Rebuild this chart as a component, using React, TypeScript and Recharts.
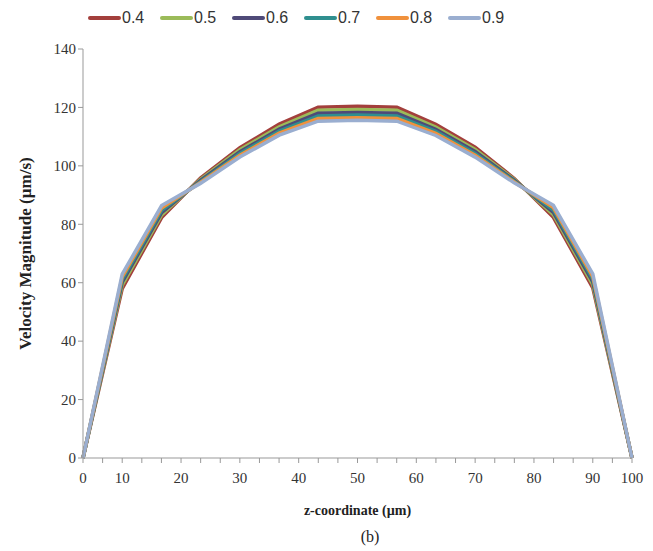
import { LineChart, Line, XAxis, YAxis } from "recharts";

// z positions along the channel (µm) where the velocity was sampled
const zValues = [0, 10, 16.7, 23.3, 30, 36.7, 43.3, 50, 56.7, 63.3, 70, 76.7, 83.3, 90, 100];

// velocity magnitude (µm/s) per series
const v04 = [0, 58.0, 82.3, 95.8, 106.2, 114.3, 120.1, 120.4, 120.1, 114.2, 106.4, 95.6, 82.4, 58.2, 0];
const v05 = [0, 59.2, 83.2, 95.4, 105.5, 113.4, 119.0, 119.3, 119.0, 113.3, 105.6, 95.3, 83.3, 59.3, 0];
const v06 = [0, 60.2, 84.0, 95.0, 104.8, 112.6, 118.0, 118.3, 118.0, 112.5, 104.9, 95.0, 84.1, 60.3, 0];
const v07 = [0, 61.1, 84.8, 94.6, 104.2, 111.9, 117.1, 117.4, 117.1, 111.8, 104.2, 94.7, 84.9, 61.2, 0];
const v08 = [0, 62.0, 85.6, 94.3, 103.6, 111.2, 116.2, 116.5, 116.2, 111.1, 103.6, 94.4, 85.7, 62.1, 0];
const v09 = [0, 62.9, 86.4, 94.0, 103.0, 110.5, 115.3, 115.6, 115.3, 110.4, 103.0, 94.1, 86.5, 63.0, 0];

const seriesNames = ["0.4", "0.5", "0.6", "0.7", "0.8", "0.9"];
const seriesValues = [v04, v05, v06, v07, v08, v09];
const colors = ["#a33f3c", "#9bbb59", "#4f4a78", "#2f8f8f", "#f0913c", "#9aaed0"];

const xTickLabels = ["0", "10", "20", "30", "40", "50", "60", "70", "80", "90", "100"];
const yTicks = [0, 20, 40, 60, 80, 100, 120, 140];

// the original axis is a category axis: 0-10 and 90-100 span two slots,
// everything in between is 10/3 µm per slot
const zToSlot = (z: number) => {
  if (z <= 10) return z / 5;
  if (z >= 90) return 26 + (z - 90) / 5;
  return 2 + (z - 10) / (10 / 3);
};

const slotTicks = Array.from({ length: 29 }, (_, i) => i);
const slotLabel: Record<number, string> = {};
xTickLabels.forEach((l) => {
  slotLabel[Math.round(zToSlot(Number(l)))] = l;
});

const chartData = zValues.map((z, i) => {
  const row: Record<string, number> = { z, slot: zToSlot(z) };
  seriesNames.forEach((name, s) => {
    row[name] = seriesValues[s][i];
  });
  return row;
});

const serif = "'Liberation Serif', 'Times New Roman', serif";
const tickStyle = { fontFamily: serif, fontSize: 15, fill: "#333" };

const App = () => {
  return (
    <div style={{ position: "relative", width: 645, height: 543 }}>
      <div
        style={{
          position: "absolute",
          top: 0,
          left: 80,
          display: "flex",
          fontFamily: "'Liberation Sans Narrow', 'Arial Narrow', Arial, sans-serif",
          fontSize: 16,
          color: "#333",
          zIndex: 2,
        }}
      >
        {seriesNames.map((name, i) => (
          <div key={name} style={{ display: "flex", alignItems: "center", width: 72, height: 20 }}>
            <div style={{ width: 33, height: 4, borderRadius: 2, background: colors[i] }} />
            <span style={{ marginLeft: 1 }}>{name}</span>
          </div>
        ))}
      </div>
      <LineChart
        width={645}
        height={520}
        data={chartData}
        margin={{ top: 41, right: 21, left: 0, bottom: 8 }}
      >
        <XAxis
          dataKey="slot"
          type="number"
          domain={[0, 28]}
          ticks={slotTicks}
          interval={0}
          tickFormatter={(v: number) => slotLabel[v] ?? ""}
          tick={tickStyle}
          tickSize={5}
          tickMargin={9}
          stroke="#999"
          height={62}
          label={{
            value: "z-coordinate (µm)",
            position: "insideBottom",
            offset: 5,
            style: { fontFamily: serif, fontSize: 14, fontWeight: "bold", fill: "#222" },
          }}
        />
        <YAxis
          domain={[0, 140]}
          ticks={yTicks}
          interval={0}
          tick={tickStyle}
          tickSize={5}
          stroke="#999"
          width={75}
          label={{
            value: "Velocity Magnitude (µm/s)",
            angle: -90,
            position: "insideLeft",
            offset: 17,
            style: { fontFamily: serif, fontSize: 17, fontWeight: "bold", fill: "#222", textAnchor: "middle" },
          }}
        />
        {seriesNames.map((name, i) => (
          <Line
            key={name}
            dataKey={name}
            stroke={colors[i]}
            strokeWidth={3.5}
            dot={false}
            isAnimationActive={false}
          />
        ))}
      </LineChart>
      <div
        style={{
          position: "absolute",
          top: 520,
          left: 332,
          width: 60,
          textAlign: "center",
          fontFamily: serif,
          fontSize: 16,
          color: "#222",
        }}
      >
        (b)
      </div>
    </div>
  );
};

export default App;
